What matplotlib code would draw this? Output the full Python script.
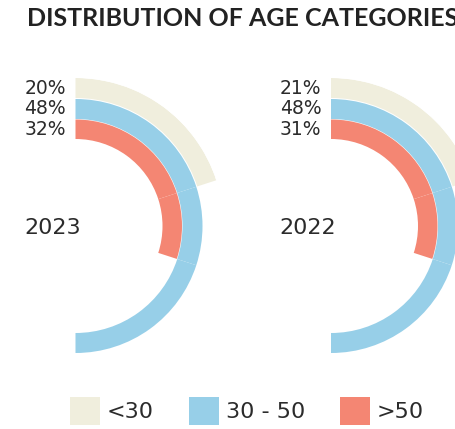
import numpy as np
import matplotlib.pyplot as plt
from matplotlib.patches import Patch

# data
years = ["2023", "2022"]
categories = ["<30", "30 - 50", ">50"]
# labelled shares (%)
shares = {
    "2023": [20, 48, 32],
    "2022": [21, 48, 31],
}
# arc lengths as drawn in the chart, on a 0-50 scale over a half circle
arcs = {
    "2023": [20, 50, 30],
    "2022": [20, 50, 30],
}
arc_max = 50
colors = ["#F0EEDD", "#97CFE8", "#F48673"]

# ring radii (outer to inner), in pixels of figure
ring_bottom = [128, 107, 87]
ring_height = [20, 20, 19.5]
R = 148

W, H = 455, 429
fig = plt.figure(figsize=(W / 100, H / 100), dpi=100)

centers = [(75.5, 226), (331, 226)]

for year, (cx, cy) in zip(years, centers):
    ax = fig.add_axes([(cx - R) / W, (H - cy - R) / H, 2 * R / W, 2 * R / H],
                      projection="polar")
    ax.set_theta_zero_location("N")
    ax.set_theta_direction(-1)
    ax.set_rlim(0, R)
    ax.axis("off")
    vals = arcs[year]
    for i, v in enumerate(vals):
        # split each ring where the shorter rings end (gives the faint seams)
        cuts = sorted(set([0] + [u for u in vals if u < v] + [v]))
        for a, b in zip(cuts[:-1], cuts[1:]):
            ax.bar(a / arc_max * np.pi, ring_height[i], width=(b - a) / arc_max * np.pi,
                   bottom=ring_bottom[i], align="edge", color=colors[i], linewidth=0)
        ax.annotate(f"{shares[year][i]}%", xy=(0, ring_bottom[i] + ring_height[i] / 2),
                    xytext=(-9.5, 0), textcoords="offset pixels",
                    ha="right", va="center", fontsize=13.5, color="#2b2b2b")
    ax.annotate(year, xy=(0, 0), xytext=(-51.5, -2), textcoords="offset pixels",
                ha="left", va="center", fontsize=16, color="#2b2b2b")

fig.text(27 / W, 1 - 18.5 / H, "DISTRIBUTION OF AGE CATEGORIES", ha="left", va="center",
         fontsize=18, fontweight="bold", family="Lato", color="#222222")

handles = [Patch(facecolor=c, edgecolor="none") for c in colors]
fig.legend(handles, categories, loc="center", bbox_to_anchor=(247 / W, 1 - 411 / H),
           ncol=3, frameon=False, fontsize=16, handlelength=1.35, handleheight=1.6,
           handletextpad=0.3, columnspacing=1.6, labelcolor="#2b2b2b")

fig.savefig("out.png", dpi=100)
